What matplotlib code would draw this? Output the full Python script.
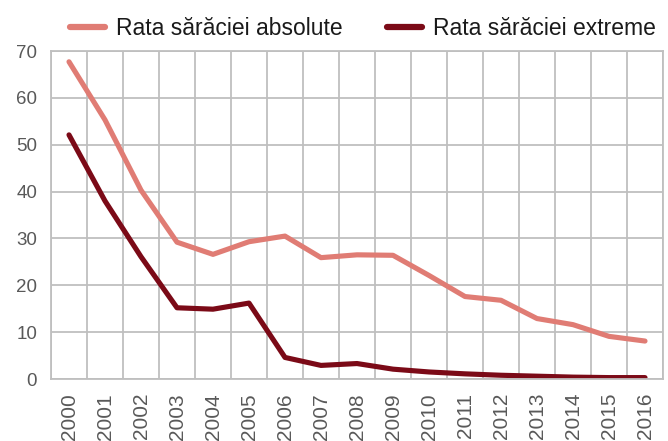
import numpy as np
import matplotlib.pyplot as plt

years = [str(y) for y in range(2000, 2017)]
absolute = [67.7, 55.3, 40.3, 29.2, 26.6, 29.3, 30.5, 25.9, 26.5, 26.4, 22.1,
            17.6, 16.8, 12.9, 11.6, 9.1, 8.1]
extreme = [52.1, 38.0, 26.1, 15.2, 14.9, 16.2, 4.6, 2.9, 3.3, 2.1, 1.5,
           1.1, 0.8, 0.6, 0.4, 0.3, 0.3]
labels = ["Rata sărăciei absolute", "Rata sărăciei extreme"]

plt.rcParams['font.family'] = ['Liberation Sans', 'DejaVu Sans']

fig = plt.figure(figsize=(6.68, 4.41), dpi=100)
ax = fig.add_axes([51/668, 1-379/441, 612/668, 328/441])

x = np.arange(len(years))
ax.plot(x, absolute, color="#E07C74", lw=3.7, solid_capstyle="round",
        solid_joinstyle="round", label=labels[0])
ax.plot(x, extreme, color="#7B0A17", lw=3.7, solid_capstyle="round",
        solid_joinstyle="round", label=labels[1])

ax.set_xlim(-0.5, len(years)-0.5)
ax.set_ylim(0, 70)
ax.set_yticks(range(0, 71, 10))
ax.set_xticks(x)
ax.set_xticklabels(years, rotation=90)
ax.set_xticks(np.arange(-0.5, len(years), 1), minor=True)
ax.grid(True, axis="y", color="#bfbfbf", lw=1.3)
ax.grid(True, axis="x", which="minor", color="#bfbfbf", lw=1.3)
ax.set_axisbelow(True)
ax.tick_params(axis="both", which="both", length=0, colors="#595959")
ax.tick_params(axis="y", labelsize=13.5, pad=10)
ax.tick_params(axis="x", labelsize=15, pad=10)
for s in ax.spines.values():
    s.set_color("#bfbfbf")
    s.set_linewidth(1.3)

fig.legend(loc="center", bbox_to_anchor=(0.543, 0.936), ncol=2, frameon=False,
           fontsize=16.5, handlelength=1.55, handletextpad=0.45, columnspacing=1.95,
           labelcolor="#1a1a1a")
for h in fig.legends[0].get_lines():
    h.set_linewidth(4.5)

fig.savefig("out.png", dpi=100)
